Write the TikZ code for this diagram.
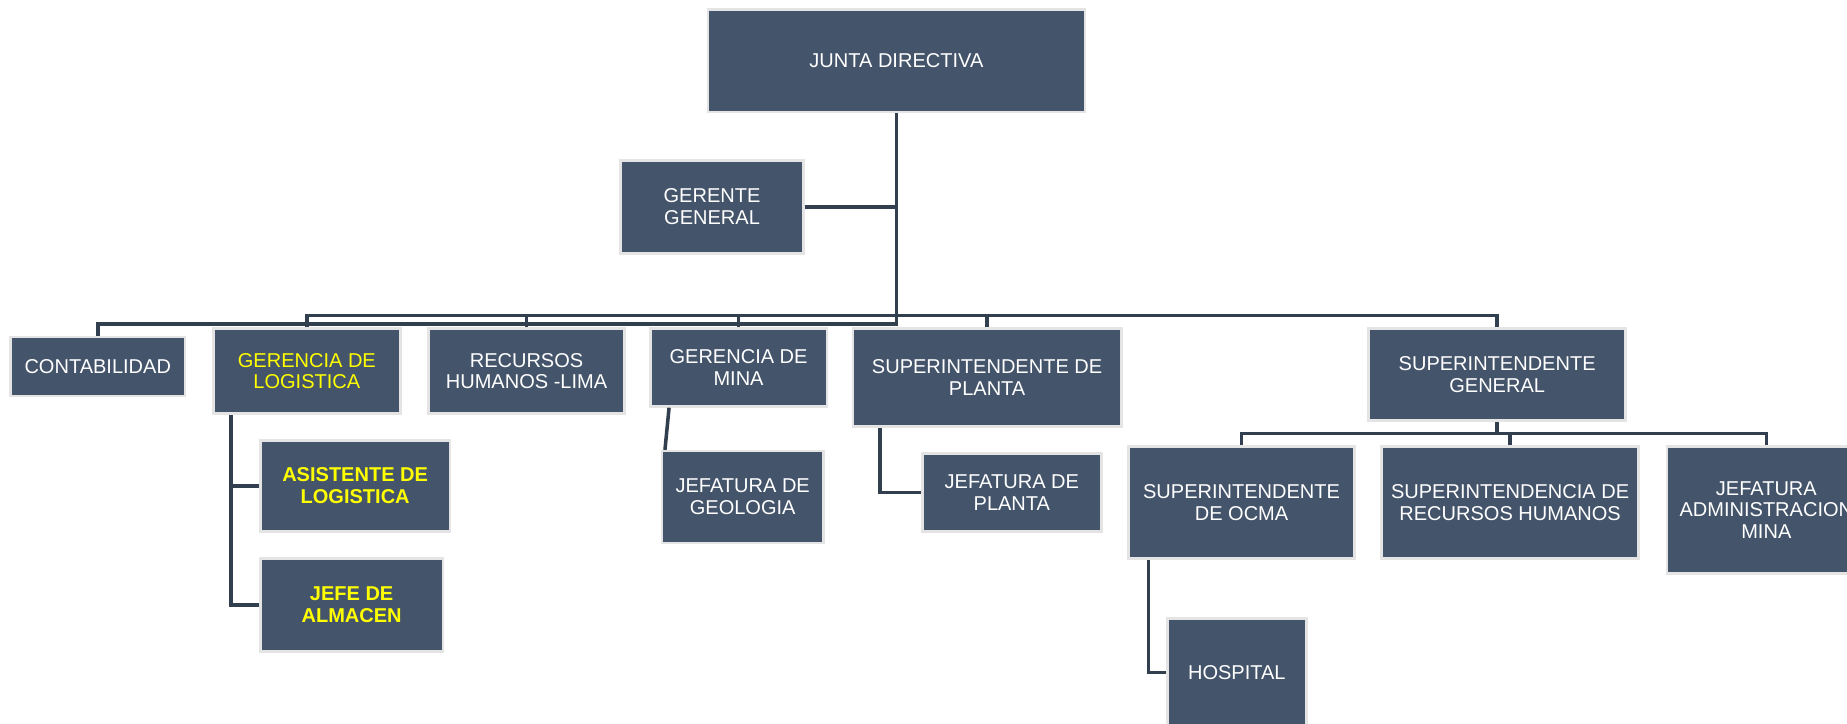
\documentclass[tikz,border=0pt]{standalone}
\usepackage{fontspec}
\setmainfont{Liberation Sans}
\definecolor{boxfill}{HTML}{44546A}
\definecolor{boxedge}{HTML}{E4E4E4}
\definecolor{lineclr}{HTML}{323F4F}
\definecolor{ylw}{HTML}{FFFF00}
\begin{document}
\begin{tikzpicture}[x=1pt,y=-1pt,
  orgbox/.style={fill=boxfill, draw=boxedge, line width=2.2pt, inner sep=0pt,
    text=white, align=center, font=\fontsize{17}{18.5}\selectfont},
  hl/.style={text=ylw},
  hlb/.style={text=ylw, font=\fontsize{17}{18.5}\selectfont\bfseries},
  conn/.style={draw=lineclr, line width=3pt, line join=miter}]
\useasboundingbox (0,0) rectangle (1568,614);
\clip (0,0) rectangle (1568,614);
\fill[white] (0,0) rectangle (1568,614);

% nodes
\node[orgbox, minimum width=320pt, minimum height=87pt] (jd) at (761,51.5) {JUNTA DIRECTIVA};
\node[orgbox, minimum width=155pt, minimum height=79pt] (gg) at (604.5,175.5) {GERENTE\\GENERAL};
\node[orgbox, minimum width=148pt, minimum height=50pt] (cont) at (83,311) {CONTABILIDAD};
\node[orgbox, hl, minimum width=159pt, minimum height=72pt] (gl) at (260.5,315) {GERENCIA DE\\LOGISTICA};
\node[orgbox, minimum width=166pt, minimum height=72pt] (rh) at (447,315) {RECURSOS\\HUMANOS -LIMA};
\node[orgbox, minimum width=150pt, minimum height=66pt] (gm) at (627,312) {GERENCIA DE\\MINA};
\node[orgbox, minimum width=228pt, minimum height=83pt] (sp) at (838,320.5) {SUPERINTENDENTE DE\\PLANTA};
\node[orgbox, minimum width=218pt, minimum height=78pt] (sg) at (1271,318) {SUPERINTENDENTE\\GENERAL};
\node[orgbox, hlb, minimum width=161pt, minimum height=77pt] (al) at (301.5,412.5) {ASISTENTE DE\\LOGISTICA};
\node[orgbox, hlb, minimum width=155pt, minimum height=79pt] (ja) at (298.5,513.5) {JEFE DE\\ALMACEN};
\node[orgbox, minimum width=137pt, minimum height=78pt] (jg) at (630.5,422) {JEFATURA DE\\GEOLOGIA};
\node[orgbox, minimum width=152pt, minimum height=66pt] (jp) at (859,418) {JEFATURA DE\\PLANTA};
\node[orgbox, minimum width=192pt, minimum height=95pt] (so) at (1054,426.5) {SUPERINTENDENTE\\DE OCMA};
\node[orgbox, minimum width=218pt, minimum height=95pt] (srh) at (1282,426.5) {SUPERINTENDENCIA DE\\RECURSOS HUMANOS};
\node[orgbox, minimum width=169pt, minimum height=108pt] (jam) at (1499.5,433) {JEFATURA\\ADMINISTRACION\\MINA};
\node[orgbox, minimum width=118pt, minimum height=92pt] (hos) at (1050,571) {HOSPITAL};

% helper coordinates
\coordinate (ub) at (0,268);
\coordinate (lb) at (0,275);
\coordinate (sgb) at (0,368);
\coordinate (lvx) at (196,0);
\coordinate (pvx) at (747,0);
\coordinate (ovx) at (975,0);

% connectors
\draw[conn] (cont.north) |- (jd.south |- lb) -- (jd.south);
\draw[conn] (gg.east) -- (gg.east -| jd.south);
\draw[conn] (gl.north) |- (sg.north |- ub) -- (sg.north);
\draw[conn] (rh.north) -- (rh.north |- ub);
\draw[conn] (gm.north) -- (gm.north |- ub);
\draw[conn] (sp.north) -- (sp.north |- ub);
\draw[conn] (gl.south -| lvx) |- (ja.west);
\draw[conn] (al.west) -- (al.west -| lvx);
\draw[conn] ([xshift=-59pt]gm.south) -- ([xshift=-66pt]jg.north);
\draw[conn] (sp.south -| pvx) |- (jp.west);
\draw[conn] (sg.south) -- (sg.south |- sgb);
\draw[conn] (so.north) |- (jam.north |- sgb) -- (jam.north);
\draw[conn] (srh.north) -- (srh.north |- sgb);
\draw[conn] (so.south -| ovx) |- (hos.west);
\end{tikzpicture}
\end{document}
